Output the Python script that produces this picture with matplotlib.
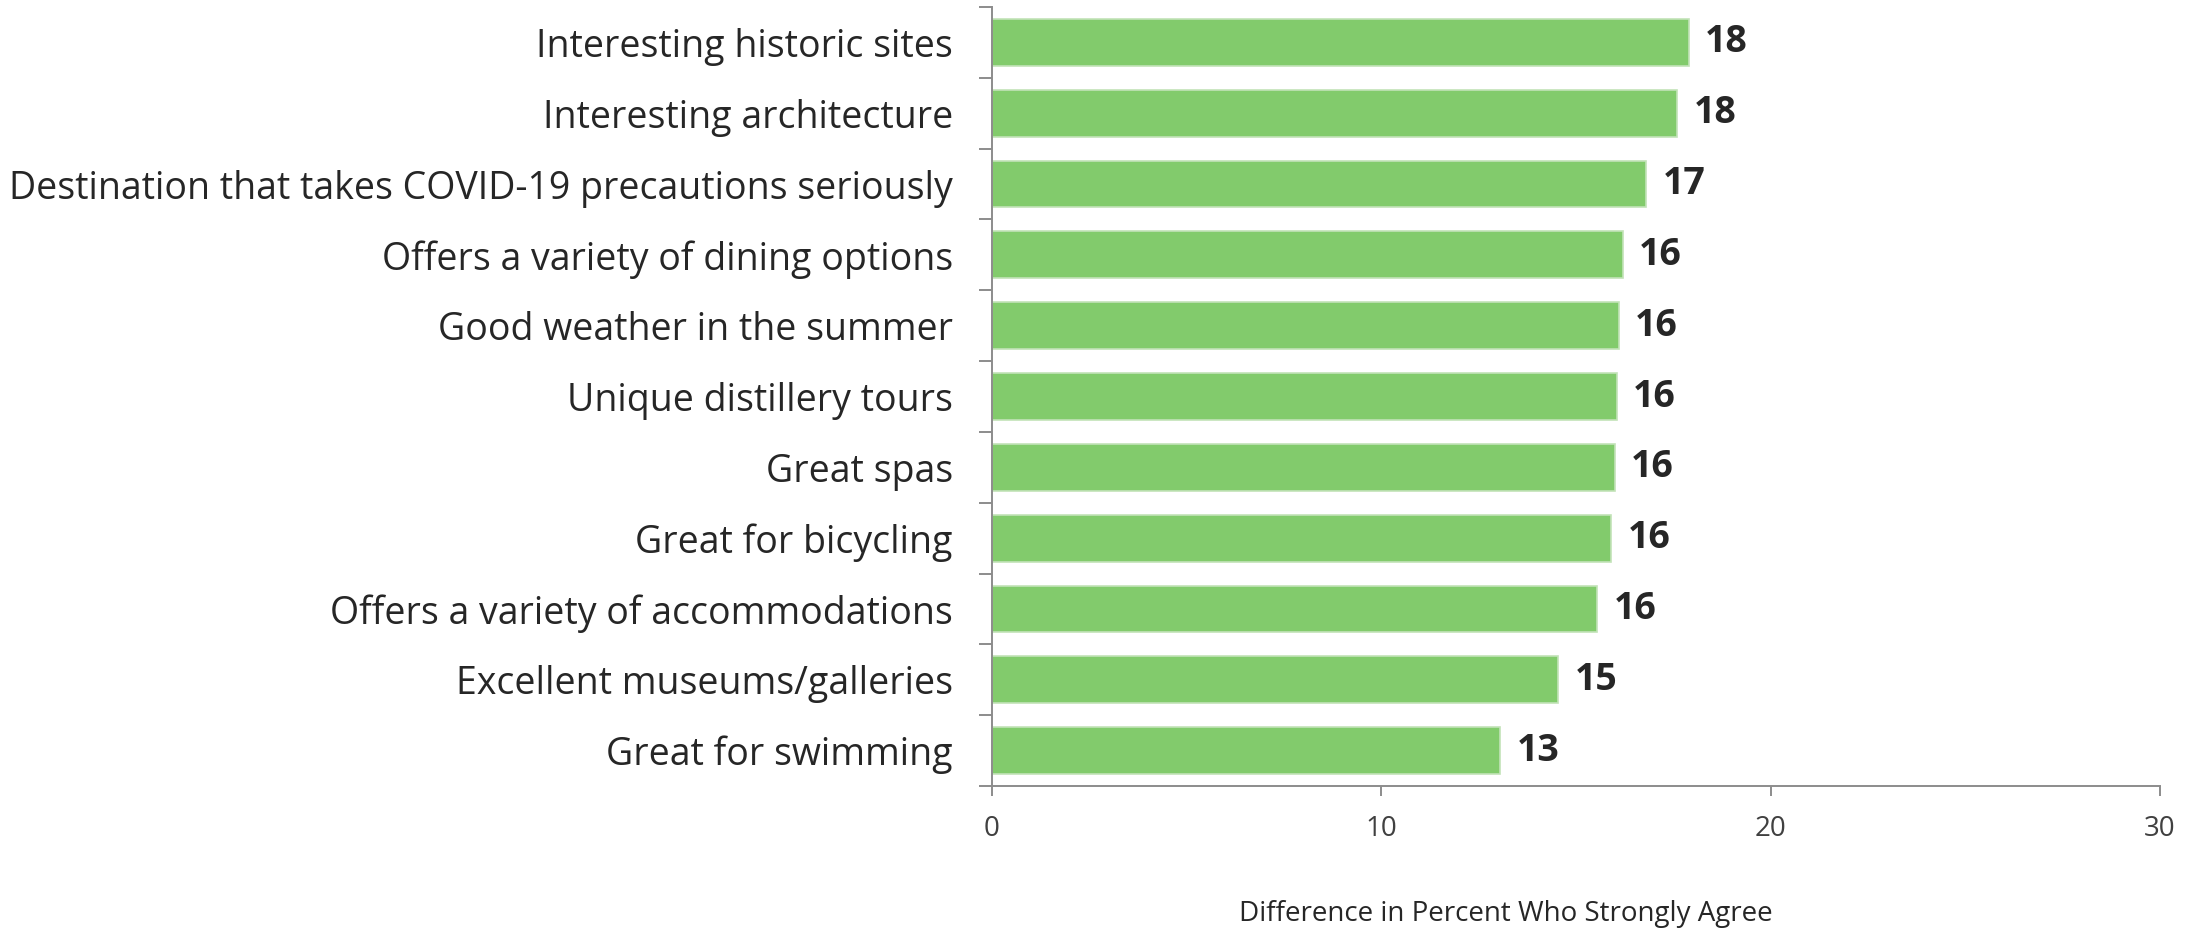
import numpy as np
import matplotlib
matplotlib.use('Agg')
import matplotlib.pyplot as plt

# data (top to bottom)
categories = ['Interesting historic sites', 'Interesting architecture',
              'Destination that takes COVID-19 precautions seriously',
              'Offers a variety of dining options', 'Good weather in the summer',
              'Unique distillery tours', 'Great spas', 'Great for bicycling',
              'Offers a variety of accommodations', 'Excellent museums/galleries',
              'Great for swimming']
values = [17.9, 17.6, 16.8, 16.2, 16.1, 16.05, 16.0, 15.9, 15.55, 14.55, 13.05]
xticks = [0, 10, 20, 30]
xlabel = 'Difference in Percent Who Strongly Agree'

plt.rcParams['font.family'] = ['Open Sans', 'DejaVu Sans']
txt = '#262626'
axcol = '#8c8c8c'

fig = plt.figure(figsize=(21.92, 9.30), dpi=100)
ax = fig.add_axes([0.4525, 0.1548, 0.5329, 0.8377])

y = np.arange(len(categories))
ax.barh(y, values, height=0.66, color='#82cb6c', edgecolor='#c2e3b8', linewidth=1.2)

# value labels at the end of each bar
for yi, v in zip(y, values):
    ax.text(v + 0.42, yi, str(int(round(v))), va='center', ha='left',
            fontsize=27, fontweight='bold', color=txt)

ax.set_xlim(0, 30)
ax.set_ylim(len(categories) - 0.5, -0.5)
ax.set_xticks(xticks)
ax.set_xticklabels([str(t) for t in xticks])
ax.set_yticks(y)
ax.set_yticklabels(categories)
ax.set_yticks(np.arange(-0.5, len(categories)), minor=True)

ax.tick_params(axis='y', which='major', length=0, pad=28, labelsize=27, labelcolor=txt)
ax.tick_params(axis='y', which='minor', length=9.5, width=1.4, color=axcol)
ax.tick_params(axis='x', which='major', length=7, width=1.4, color=axcol,
               pad=14, labelsize=20, labelcolor='#404040')

for s in ['top', 'right']:
    ax.spines[s].set_visible(False)
for s in ['left', 'bottom']:
    ax.spines[s].set_color(axcol)
    ax.spines[s].set_linewidth(1.4)

fig.text(1506 / 2192, 1 - 914 / 930, xlabel, ha='center', va='center',
         fontsize=20, color=txt)

fig.savefig('out.png', dpi=100)
